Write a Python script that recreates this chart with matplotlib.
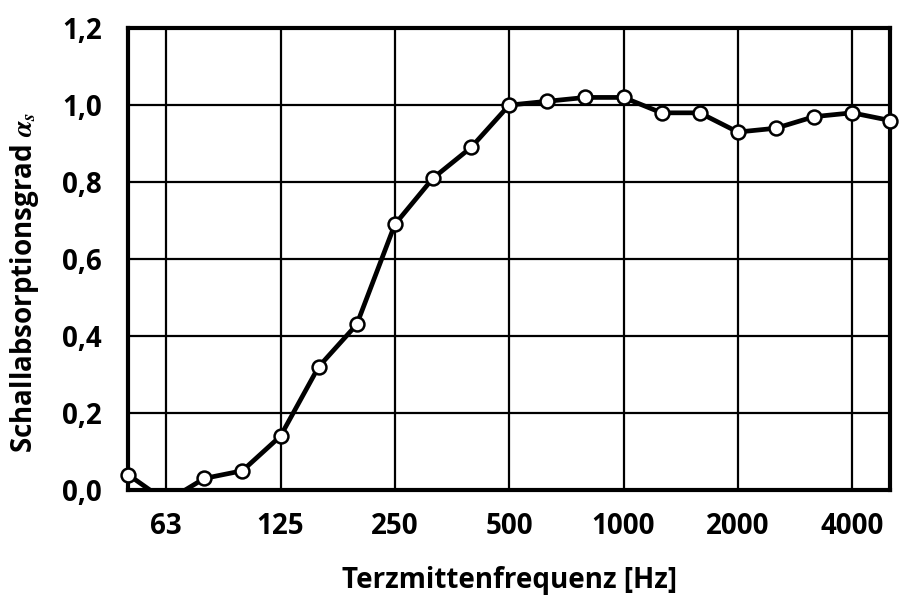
import matplotlib
matplotlib.use("Agg")
import matplotlib.pyplot as plt
from matplotlib.patches import Rectangle
import numpy as np

# Terzmittenfrequenzen (Hz) und Schallabsorptionsgrad
freqs = [50, 63, 80, 100, 125, 160, 200, 250, 315, 400, 500,
         630, 800, 1000, 1250, 1600, 2000, 2500, 3150, 4000, 5000]
alpha = [0.04, -0.03, 0.03, 0.05, 0.14, 0.32, 0.43, 0.69, 0.81, 0.89, 1.00,
         1.01, 1.02, 1.02, 0.98, 0.98, 0.93, 0.94, 0.97, 0.98, 0.96]
xtick_labels = ["63", "125", "250", "500", "1000", "2000", "4000"]
yticks = [0.0, 0.2, 0.4, 0.6, 0.8, 1.0, 1.2]

plt.rcParams['font.family'] = ['Open Sans', 'DejaVu Sans']
plt.rcParams['font.weight'] = 'bold'
plt.rcParams['mathtext.fontset'] = 'stix'

fig = plt.figure(figsize=(9.02, 5.99), dpi=100)
ax = fig.add_axes([0.142, 0.182, 0.845, 0.771])

x = np.arange(len(freqs))
xt = [freqs.index(int(l)) for l in xtick_labels]

ax.set_xlim(0, len(freqs) - 1)
ax.set_ylim(0, 1.2)
ax.set_xticks(xt)
ax.set_xticklabels(xtick_labels)
ax.set_yticks(yticks)
ax.set_yticklabels([f"{v:.1f}".replace(".", ",") for v in yticks])
ax.tick_params(length=0, labelsize=20)
ax.tick_params(axis='x', pad=16)
ax.tick_params(axis='y', pad=19)
for lab in ax.get_xticklabels() + ax.get_yticklabels():
    lab.set_fontweight('bold')

ax.grid(True, color='black', linewidth=1.6)
ax.set_axisbelow(True)
for s in ax.spines.values():
    s.set_linewidth(3)
    s.set_color('black')

line, = ax.plot(x, alpha, color='black', linewidth=3.4, marker='o',
                markersize=10, markerfacecolor='white', markeredgecolor='black',
                markeredgewidth=1.8, zorder=5)
# clip only vertically, so the markers on the left/right edges stay whole
clip = Rectangle((-0.05, 0), 1.1, 1.0, transform=ax.transAxes)
line.set_clip_path(clip)

ax.set_xlabel("Terzmittenfrequenz [Hz]", fontsize=20, fontweight='bold', labelpad=18)
ax.set_ylabel(r"Schallabsorptionsgrad $\alpha_s$", fontsize=20, fontweight='bold')
ax.yaxis.set_label_coords(-0.114, 0.45)

fig.savefig("out.png", dpi=100)
